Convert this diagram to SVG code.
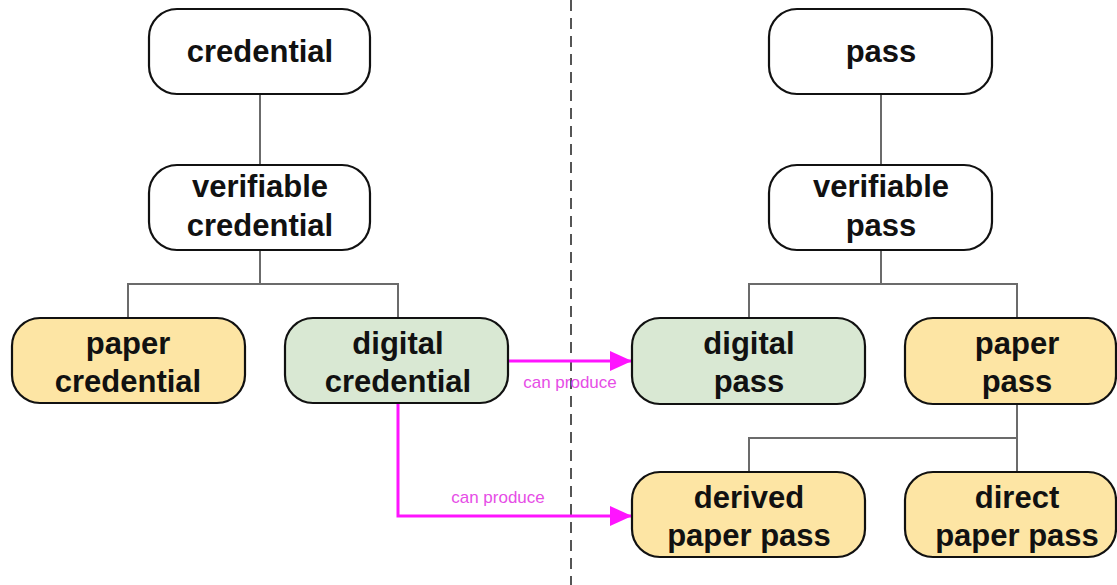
<svg xmlns="http://www.w3.org/2000/svg" width="1117" height="585" viewBox="0 0 1117 585">
<defs>
<style>
.box{stroke:#111;stroke-width:2.2}
.w{fill:#ffffff}
.y{fill:#fde5a4}
.g{fill:#d9e8d3}
.t{font-family:"Liberation Sans",Arial,sans-serif;font-weight:bold;font-size:31px;fill:#111;text-anchor:middle}
.lbl{font-family:"Liberation Sans",Arial,sans-serif;font-size:17px;fill:#e64de6;text-anchor:middle}
.tree{fill:none;stroke:#6b6b6b;stroke-width:2}
.mag{fill:none;stroke:#ff14ff;stroke-width:3}
</style>
<marker id="ah" markerWidth="22" markerHeight="20" refX="22" refY="10" orient="auto" markerUnits="userSpaceOnUse">
<path d="M0,0 L22,10 L0,20 Z" fill="#ff14ff"/>
</marker>
</defs>
<rect width="1117" height="585" fill="#ffffff"/>
<line x1="571" y1="0" x2="571" y2="585" stroke="#555" stroke-width="2" stroke-dasharray="11,7"/>
<g id="connectors">
<path class="tree" d="M260,94 V165"/>
<path class="tree" d="M260,250 V284 M128,318 V284 H398 V318"/>
<path class="tree" d="M881,94 V165"/>
<path class="tree" d="M881,250 V284 M749,318 V284 H1017 V318"/>
<path class="tree" d="M1017,404 V472 M749,472 V438 H1017"/>
<path class="mag" d="M508,361 H632" marker-end="url(#ah)"/>
<text class="lbl" x="570" y="388">can produce</text>
<path class="mag" d="M398,403 V516 H632" marker-end="url(#ah)"/>
<text class="lbl" x="498" y="503">can produce</text>
</g>
<g id="credential">
<rect class="box w" x="149" y="9" width="221" height="85" rx="28"/>
<text class="t" x="260" y="62">credential</text>
</g>
<g id="verifiable-credential">
<rect class="box w" x="149" y="165" width="221" height="85" rx="28"/>
<text class="t" x="260" y="197">verifiable</text>
<text class="t" x="260" y="236">credential</text>
</g>
<g id="paper-credential">
<rect class="box y" x="12" y="318" width="233" height="85" rx="28"/>
<text class="t" x="128" y="354">paper</text>
<text class="t" x="128" y="392">credential</text>
</g>
<g id="digital-credential">
<rect class="box g" x="285" y="318" width="223" height="85" rx="28"/>
<text class="t" x="398" y="354">digital</text>
<text class="t" x="398" y="392">credential</text>
</g>
<g id="pass">
<rect class="box w" x="769" y="9" width="223" height="85" rx="28"/>
<text class="t" x="881" y="62">pass</text>
</g>
<g id="verifiable-pass">
<rect class="box w" x="769" y="165" width="223" height="85" rx="28"/>
<text class="t" x="881" y="197">verifiable</text>
<text class="t" x="881" y="236">pass</text>
</g>
<g id="digital-pass">
<rect class="box g" x="632" y="318" width="233" height="86" rx="28"/>
<text class="t" x="749" y="354">digital</text>
<text class="t" x="749" y="392">pass</text>
</g>
<g id="paper-pass">
<rect class="box y" x="905" y="318" width="211" height="86" rx="28"/>
<text class="t" x="1017" y="354">paper</text>
<text class="t" x="1017" y="392">pass</text>
</g>
<g id="derived-paper-pass">
<rect class="box y" x="632" y="472" width="233" height="85" rx="28"/>
<text class="t" x="749" y="508">derived</text>
<text class="t" x="749" y="546">paper pass</text>
</g>
<g id="direct-paper-pass">
<rect class="box y" x="905" y="472" width="211" height="85" rx="28"/>
<text class="t" x="1017" y="508">direct</text>
<text class="t" x="1017" y="546">paper pass</text>
</g>
</svg>
